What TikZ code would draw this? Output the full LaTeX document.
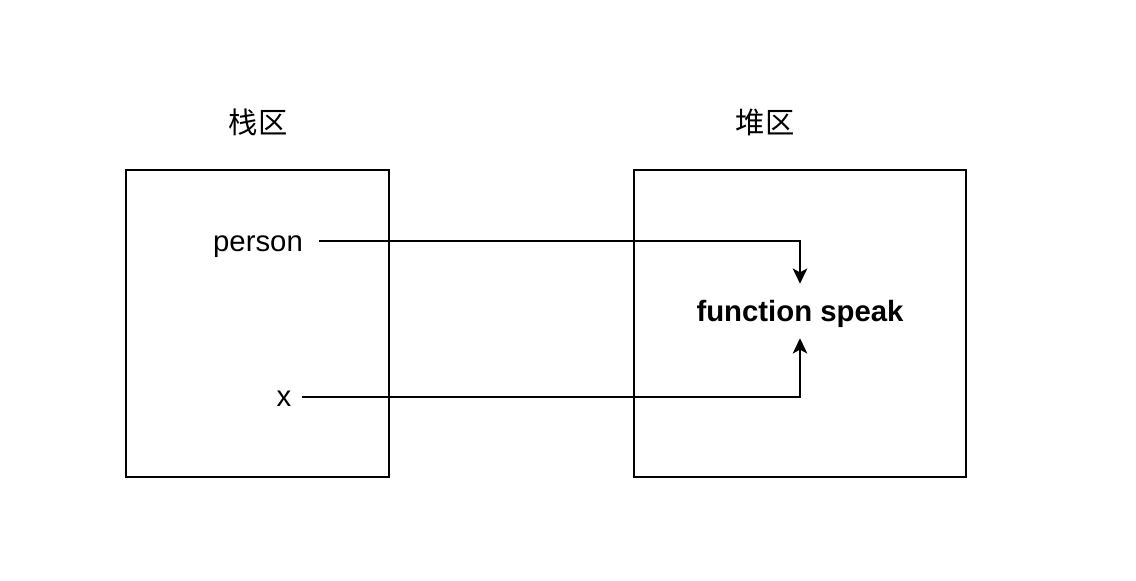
\documentclass[tikz,border=0pt]{standalone}
\usepackage{fontspec}
\setmainfont{Liberation Sans}
\newfontfamily\cjk{Noto Sans CJK SC}
\usetikzlibrary{arrows.meta}
\begin{document}
\begin{tikzpicture}[x=0.75pt,y=-0.75pt,
  area/.style={draw=black,line width=1.1pt,inner sep=0pt},
  lbl/.style={inner sep=0pt,font=\fontsize{22}{26}\selectfont},
  conn/.style={draw=black,line width=1.1pt,-{Stealth[length=11.5pt,width=11pt,inset=3pt]}}]
\useasboundingbox (0,0) rectangle (1136,581);
\fill[white] (0,0) rectangle (1136,581);
% boxes
\node[area,minimum width=197.25pt,minimum height=230.25pt] (stack) at (257.5,323.5) {};
\node[area,minimum width=249pt,minimum height=230.25pt] (heap) at (800,323.5) {};
% titles
\node[lbl,font=\cjk\fontsize{22}{26}\selectfont] (stitle) at (258,122) {栈区};
\node[lbl,font=\cjk\fontsize{22}{26}\selectfont] (htitle) at (765,122) {堆区};
% texts
\node[lbl,text height=15pt,text depth=0pt,anchor=base] (person) at (258,252) {person};
\node[lbl,anchor=base] (x) at (284,406) {x};
\node[lbl,font=\bfseries\fontsize{22}{26}\selectfont,minimum height=40.5pt,text height=16pt,text depth=0pt] (fs) at (800,311) {function speak};
% connectors
\draw[conn,shorten <=12pt] (person.east |- 0,241) -| (fs.north);
\draw[conn,shorten <=7.5pt] (x.east |- 0,397) -| (fs.south);
\end{tikzpicture}
\end{document}
